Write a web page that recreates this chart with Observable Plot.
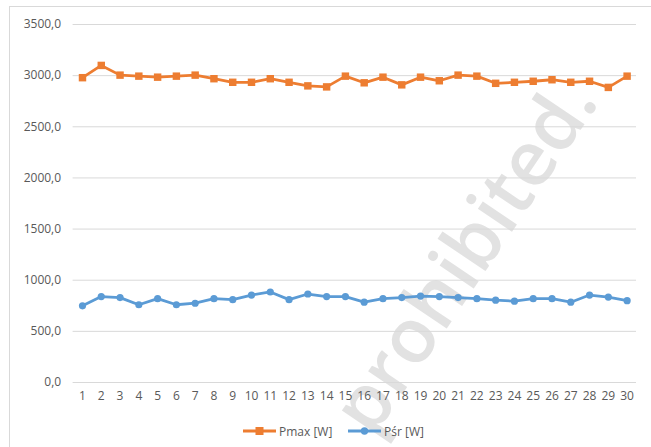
<!DOCTYPE html>
<html>
<head>
<meta charset="utf-8">
<script src="https://cdn.jsdelivr.net/npm/d3@7"></script>
<script src="https://cdn.jsdelivr.net/npm/@observablehq/plot@0.6"></script>
<style>
  html, body { margin: 0; padding: 0; background: #fff; }
  #wrap { position: relative; width: 651px; height: 447px; overflow: hidden; font-family: "Open Sans", "Liberation Sans", sans-serif; }
  #frame { position: absolute; left: 9px; top: 6px; width: 660px; height: 460px; border: 1px solid #d9d9d9; box-sizing: border-box; }
  #chart { position: absolute; left: 0; top: 0; }
  #legend { position: absolute; left: 0; top: 422px; width: 651px; height: 20px; font-size: 12px; color: #595959; }
  .item { position: absolute; top: 0; display: flex; align-items: center; height: 18px; }
  .item svg { margin-right: 3px; }
  #wm { position: absolute; left: 462px; top: 254px; font-size: 76px; font-weight: 600; line-height: 1; color: #e2e2e2; transform: translate(-50%,-50%) rotate(-56deg); white-space: nowrap; font-family: "Open Sans", sans-serif; pointer-events: none; }
</style>
</head>
<body>
<div id="wrap">
  <div id="frame"></div>
  <div id="wm">prohibited.</div>
  <div id="chart"></div>
  <div id="legend">
    <div class="item" style="left:243px">
      <svg width="33" height="10"><line x1="0" y1="5" x2="33" y2="5" stroke="#ED7D31" stroke-width="2.8"/><rect x="12.5" y="1" width="8" height="8" fill="#ED7D31"/></svg>
      <span>Pmax [W]</span>
    </div>
    <div class="item" style="left:348px">
      <svg width="33" height="10"><line x1="0" y1="5" x2="33" y2="5" stroke="#5B9BD5" stroke-width="2.8"/><circle cx="16.5" cy="5" r="3.7" fill="#5B9BD5"/></svg>
      <span>Pśr [W]</span>
    </div>
  </div>
</div>
<script>
const days = d3.range(1, 31);
const pmax = [2980, 3100, 3005, 2995, 2985, 2995, 3005, 2970, 2935, 2935,
              2970, 2935, 2900, 2890, 2995, 2930, 2985, 2910, 2985, 2950,
              3005, 2995, 2925, 2935, 2945, 2960, 2935, 2945, 2885, 2995];
const psr  = [750, 840, 830, 760, 820, 760, 775, 820, 810, 855,
              885, 810, 865, 840, 840, 785, 820, 830, 845, 840,
              830, 820, 805, 795, 820, 820, 785, 855, 835, 800];
const yTicks = [0, 500, 1000, 1500, 2000, 2500, 3000, 3500];
const seriesNames = ["Pmax [W]", "Pśr [W]"];
const colors = ["#ED7D31", "#5B9BD5"];

const rowsMax = days.map((d, i) => ({day: d, value: pmax[i]}));
const rowsSr = days.map((d, i) => ({day: d, value: psr[i]}));
const fmt = v => v.toFixed(1).replace(".", ",");

const chart = Plot.plot({
  width: 651,
  height: 412,
  marginLeft: 72.6,
  marginRight: 15,
  marginTop: 24,
  marginBottom: 30,
  style: {fontFamily: "'Open Sans', 'Liberation Sans', sans-serif", fontSize: "12px", color: "#595959", background: "transparent"},
  x: {type: "point", domain: days, padding: 0.5, round: false, label: null, tickSize: 0, tickPadding: 9},
  y: {domain: [0, 3500], ticks: yTicks, tickFormat: fmt, label: null, tickSize: 0, tickPadding: 12},
  marks: [
    Plot.gridY(yTicks, {stroke: "#d9d9d9", strokeOpacity: 1, strokeWidth: 1}),
    Plot.axisX({tickSize: 0, tickPadding: 9, fill: "#595959"}),
    Plot.axisY({ticks: yTicks, tickFormat: fmt, tickSize: 0, tickPadding: 12, fill: "#595959"}),
    Plot.lineY(rowsMax, {x: "day", y: "value", stroke: colors[0], strokeWidth: 2.8}),
    Plot.dot(rowsMax, {x: "day", y: "value", symbol: "square", r: 4.2, fill: colors[0], stroke: "none"}),
    Plot.lineY(rowsSr, {x: "day", y: "value", stroke: colors[1], strokeWidth: 2.8}),
    Plot.dot(rowsSr, {x: "day", y: "value", symbol: "circle", r: 3.6, fill: colors[1], stroke: "none"})
  ]
});
document.getElementById("chart").appendChild(chart);
</script>
</body>
</html>
